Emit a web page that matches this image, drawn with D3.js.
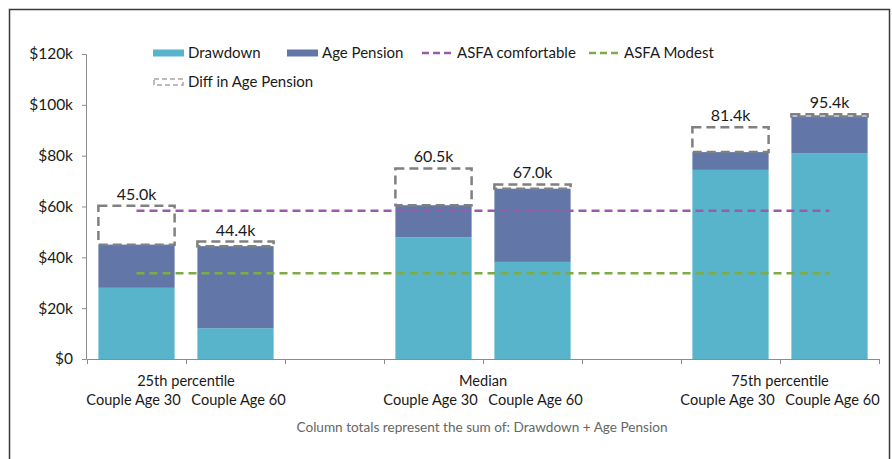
<!DOCTYPE html>
<html>
<head>
<meta charset="utf-8">
<script src="https://cdn.jsdelivr.net/npm/d3@7"></script>
<style>
  body { margin: 0; background: #fff; }
  svg text { font-family: Lato, "Open Sans", sans-serif; fill: #1a1a1a; }
</style>
</head>
<body>
<svg id="chart" width="892" height="459"></svg>
<script>
// chart values (in $k)
const groups = ["25th percentile", "Median", "75th percentile"];
const subLabels = ["Couple Age 30", "Couple Age 60"];
const drawdown = [28.0, 12.1, 47.9, 38.2, 74.4, 81.0];
const agePension = [17.0, 32.3, 12.6, 28.8, 7.0, 14.4];
const totalLabels = ["45.0k", "44.4k", "60.5k", "67.0k", "81.4k", "95.4k"];
const diffAgePension = [15.3, 1.8, 14.5, 1.7, 9.8, 0.9];
const asfaComfortable = 58.3;
const asfaModest = 33.7;
const yTicks = [0, 20, 40, 60, 80, 100, 120];

const colDrawdown = "#57b4cb";
const colPension = "#6277a8";
const colComf = "#9b5aae";
const colModest = "#7eab46";
const colDiff = "#808080";

const svg = d3.select("#chart");

// frame
svg.append("path")
  .attr("d", "M9.5,470 V9.5 H889.5 V470")
  .attr("fill", "none")
  .attr("stroke", "#3a3a3a")
  .attr("stroke-width", 1.5);

// slots: two bars per group, with an empty slot between groups
const slots = ["b0", "b1", "g1", "b2", "b3", "g2", "b4", "b5"];
const barSlots = ["b0", "b1", "b2", "b3", "b4", "b5"];

const x = d3.scaleBand()
  .domain(slots)
  .range([87, 879])
  .paddingInner(0.23)
  .paddingOuter(0.115);

const xEdge = d3.scaleLinear().domain([0, slots.length]).range([87, 879]);

const y = d3.scaleLinear().domain([0, 120]).range([359, 54]);

// axes
const yAxis = svg.append("g")
  .attr("transform", "translate(86,0)")
  .call(d3.axisLeft(y).tickValues(yTicks).tickSize(4).tickPadding(9)
    .tickFormat(d => "$" + d + (d === 0 ? "" : "k")));
yAxis.select(".domain").attr("stroke", "#8c8c8c");
yAxis.selectAll(".tick line").attr("stroke", "#8c8c8c");
yAxis.selectAll("text").style("font-size", "15.5px");

const xAxis = svg.append("g")
  .attr("transform", "translate(0,359)")
  .call(d3.axisBottom(xEdge).tickValues(d3.range(slots.length + 1)).tickSize(5).tickFormat(""));
xAxis.select(".domain").attr("stroke", "#8c8c8c").attr("d", "M87,0.5H879");
xAxis.selectAll(".tick line").attr("stroke", "#8c8c8c");

// data rows
const rows = barSlots.map((s, i) => ({
  slot: s,
  dd: drawdown[i],
  ap: agePension[i],
  total: drawdown[i] + agePension[i],
  diff: diffAgePension[i],
  label: totalLabels[i]
}));

const bars = svg.append("g");
bars.selectAll(".dd").data(rows).enter().append("rect")
  .attr("x", d => x(d.slot))
  .attr("width", x.bandwidth())
  .attr("y", d => y(d.dd))
  .attr("height", d => y(0) - y(d.dd))
  .attr("fill", colDrawdown);

bars.selectAll(".ap").data(rows).enter().append("rect")
  .attr("x", d => x(d.slot))
  .attr("width", x.bandwidth())
  .attr("y", d => y(d.total))
  .attr("height", d => y(d.dd) - y(d.total))
  .attr("fill", colPension);

// ASFA lines from first bar centre to last bar centre
const x0 = x("b0") + x.bandwidth() / 2;
const x1 = x("b5") + x.bandwidth() / 2;
[[asfaComfortable, colComf], [asfaModest, colModest]].forEach(([v, c]) => {
  svg.append("line")
    .attr("x1", x0).attr("x2", x1)
    .attr("y1", y(v)).attr("y2", y(v))
    .attr("stroke", c)
    .attr("stroke-width", 2.5)
    .attr("stroke-dasharray", "8,5");
});

// diff boxes
bars.selectAll(".diff").data(rows).enter().append("rect")
  .attr("x", d => x(d.slot))
  .attr("width", x.bandwidth())
  .attr("y", d => y(d.total + d.diff))
  .attr("height", d => y(d.total) - y(d.total + d.diff))
  .attr("fill", "none")
  .attr("stroke", colDiff)
  .attr("stroke-width", 2.5)
  .attr("stroke-dasharray", "9,5");

// total labels
svg.selectAll(".tot").data(rows).enter().append("text")
  .attr("x", d => x(d.slot) + x.bandwidth() / 2)
  .attr("y", d => y(d.total + d.diff) - 6)
  .attr("text-anchor", "middle")
  .style("font-size", "16px")
  .text(d => d.label);

// category labels (pushed slightly apart like the original)
barSlots.forEach((s, i) => {
  svg.append("text")
    .attr("x", x(s) + x.bandwidth() / 2 + (i % 2 ? 3 : -3))
    .attr("y", 405)
    .attr("text-anchor", "middle")
    .style("font-size", "14.6px")
    .text(subLabels[i % 2]);
});
groups.forEach((g, i) => {
  const a = x(barSlots[i * 2]);
  const b = x(barSlots[i * 2 + 1]) + x.bandwidth();
  svg.append("text")
    .attr("x", (a + b) / 2)
    .attr("y", 386)
    .attr("text-anchor", "middle")
    .style("font-size", "14.6px")
    .text(g);
});

// footnote
svg.append("text")
  .attr("x", 482)
  .attr("y", 432)
  .attr("text-anchor", "middle")
  .style("font-size", "13.6px")
  .style("fill", "#666")
  .text("Column totals represent the sum of: Drawdown + Age Pension");

// legend
const legend = svg.append("g").style("font-size", "15px");
const items = [
  { type: "rect", color: colDrawdown, label: "Drawdown", x: 153, y: 53 },
  { type: "rect", color: colPension, label: "Age Pension", x: 287, y: 53 },
  { type: "line", color: colComf, label: "ASFA comfortable", x: 422, y: 53 },
  { type: "line", color: colModest, label: "ASFA Modest", x: 589, y: 53 },
  { type: "box", color: colDiff, label: "Diff in Age Pension", x: 153, y: 82 }
];
items.forEach(it => {
  if (it.type === "rect") {
    legend.append("rect").attr("x", it.x).attr("y", it.y - 3.5)
      .attr("width", 31).attr("height", 7).attr("fill", it.color);
  } else if (it.type === "line") {
    legend.append("line").attr("x1", it.x).attr("x2", it.x + 30)
      .attr("y1", it.y).attr("y2", it.y)
      .attr("stroke", it.color).attr("stroke-width", 2.5)
      .attr("stroke-dasharray", "7,4");
  } else {
    legend.append("rect").attr("x", it.x + 1).attr("y", it.y - 3)
      .attr("width", 29).attr("height", 6).attr("fill", "none")
      .attr("stroke", "#a6a6a6").attr("stroke-width", 1.5)
      .attr("stroke-dasharray", "5,3");
  }
  legend.append("text")
    .attr("x", it.x + 35)
    .attr("y", it.y)
    .attr("dy", "0.35em")
    .text(it.label);
});
</script>
</body>
</html>
